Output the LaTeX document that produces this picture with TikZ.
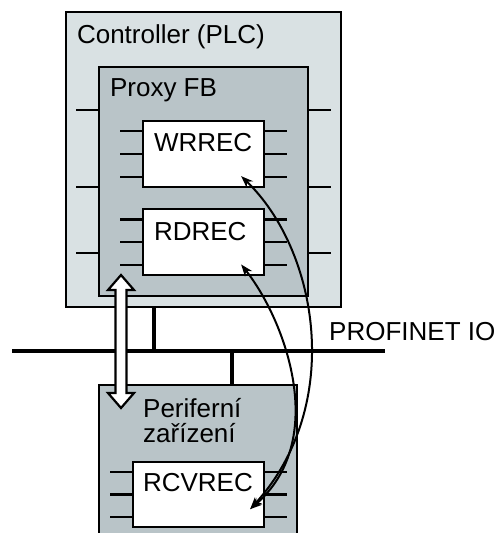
\documentclass[tikz,border=0pt]{standalone}
\usepackage{fontspec}
\setmainfont{Liberation Sans}
\usetikzlibrary{positioning}
\usetikzlibrary{calc}
\usetikzlibrary{arrows.meta}

\definecolor{plcgray}{HTML}{D9E1E3}
\definecolor{fbgray}{HTML}{B9C4C8}

\tikzset{
    block/.style={draw, line width=2.3pt, inner sep=0pt},
    fbbox/.style={block, fill=white, minimum width=121pt, minimum height=66pt},
    plug/.style={line width=2.2pt},
    busline/.style={line width=4pt},
    txt/.style={inner sep=0pt, anchor=base west, font=\fontsize{26}{25}\selectfont},
    rec/.style={line width=2pt, {Stealth[length=12pt,width=9pt]}-{Stealth[length=12pt,width=9pt]}},
}

\begin{document}
\begin{tikzpicture}[x=1pt, y=1pt]
    \useasboundingbox (0,0) rectangle (498,-533);
    \clip (0,0) rectangle (498,-533);

    % controller with proxy FB
    \node[block, fill=plcgray, minimum width=275pt, minimum height=295pt] (plc) at (203.5,-159.5) {};
    \node[block, fill=fbgray, minimum width=209pt, minimum height=229pt] (proxy) at (203.5,-181.5) {};
    \foreach \y in {110,187,253} {
        \draw[plug] (proxy.west |- 0,-\y) -- ++(-22,0);
        \draw[plug] (proxy.east |- 0,-\y) -- ++(22,0);
    }
    \node[fbbox] (wr) at (203.5,-154) {};
    \node[fbbox, below=20pt of wr] (rd) {};

    % device
    \node[block, fill=fbgray, minimum width=198pt, minimum height=200pt, anchor=north west] (peri) at (98,-384) {};
    \node[fbbox, minimum width=131pt, minimum height=65pt] (rcv) at (198.5,-494.5) {};

    \foreach \n in {wr, rd, rcv} {
        \foreach \f in {1,3,5} {
            \draw[plug] ($(\n.north west)!\f/6!(\n.south west)$) -- ++(-22,0);
            \draw[plug] ($(\n.north east)!\f/6!(\n.south east)$) -- ++(22,0);
        }
    }

    \node[txt] (plctxt) at ([shift={(12,-33)}]plc.north west) {Controller (PLC)};
    \node[txt] (proxytxt) at ([shift={(12,-31)}]proxy.north west) {Proxy FB};
    \node[txt] (wrtxt) at ([shift={(12,-32)}]wr.north west) {WRREC};
    \node[txt] (rdtxt) at ([shift={(12,-32)}]rd.north west) {RDREC};
    \node[txt] (rcvtxt) at ([shift={(11,-31)}]rcv.north west) {RCVREC};
    \node[txt] (peritxt) at ([shift={(45,-33)}]peri.north west) {Periferní};
    \node[txt] (peritxt2) at ([yshift=-25pt]peritxt.base west) {zařízení};
    \node[txt] (pntxt) at (329,-340) {PROFINET IO};

    % bus
    \coordinate (busL) at (12,-351);
    \coordinate (busR) at (385,-351);
    \coordinate (tapA) at (154,-351);
    \coordinate (tapB) at (232,-351);
    \draw[busline] (busL) -- (busR);
    \draw[busline] (plc.south -| tapA) -- (tapA);
    \draw[busline] (tapB) -- (tapB |- peri.north);

    % hollow double arrow
    \coordinate (dtop) at (121,-275);
    \draw[line width=2.2pt, fill=white, line join=miter] (dtop) -- ++(13,-15) -- ++(-7.5,0) -- ++(0,-103)
        -- ++(7.5,0) -- ++(-13,-15) -- ++(-13,15) -- ++(7.5,0) -- ++(0,103) -- ++(-7.5,0) -- cycle;

    % record transfer
    \coordinate (wrin) at ([shift={(-24,12)}]wr.south east);
    \coordinate (rdin) at ([shift={(-24,12)}]rd.south east);
    \coordinate (rcvin) at ([shift={(-15,19)}]rcv.south east);
    \draw[rec] (wrin) .. controls (318,-250) and (345,-405) .. (rcvin);
    \draw[rec] (rdin) .. controls (285,-320) and (330,-440) .. (rcvin);
\end{tikzpicture}
\end{document}
